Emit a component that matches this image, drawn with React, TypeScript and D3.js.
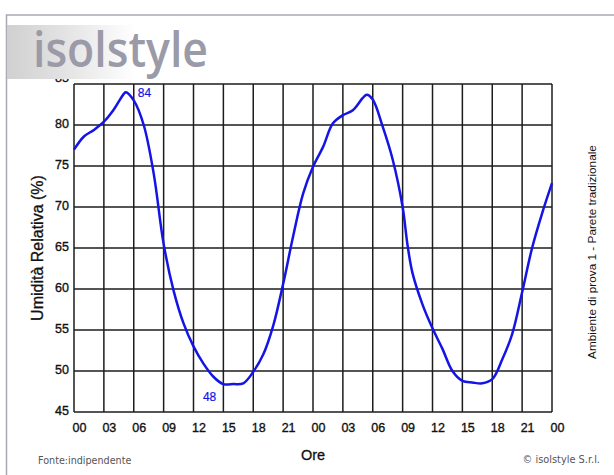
import { useEffect, useRef } from "react"
import * as d3 from "d3"

// hours from the first midnight, humidity %
const hours = [0, 1, 2, 3, 4, 5, 5.2, 6, 7, 8, 9, 10, 11, 12, 13, 14, 15, 16, 17, 18, 19, 20, 21, 22, 23, 24, 25, 26, 27, 28, 29, 29.4, 30, 31, 32, 33, 33.5, 34, 35, 36, 37, 38, 39, 40, 41, 42, 43, 44, 45, 46, 47, 48]
const humidity = [77.0, 78.6, 79.4, 80.4, 81.9, 83.8, 84.0, 83.0, 80.0, 74.1, 65.5, 59.8, 55.8, 53.0, 50.9, 49.3, 48.4, 48.4, 48.5, 49.9, 52.0, 55.5, 60.6, 66.4, 71.6, 74.9, 77.3, 80.2, 81.2, 81.8, 83.3, 83.7, 83.1, 79.8, 75.8, 70.0, 65.3, 61.9, 58.1, 55.2, 52.7, 50.0, 48.8, 48.6, 48.5, 49.0, 51.4, 54.5, 59.6, 65.0, 69.2, 72.9]
const xTickLabels = ["00", "03", "06", "09", "12", "15", "18", "21", "00", "03", "06", "09", "12", "15", "18", "21", "00"]
const yTicks = [45, 50, 55, 60, 65, 70, 75, 80, 85]
const peakLabels = [
  { h: 5.2, v: 84, text: "84", dx: 12, dy: 5 },
  { h: 14.3, v: 48, text: "48", dx: -13.5, dy: 14 },
]

const sans = "Liberation Sans, Arial, sans-serif"

export default function App() {
  const svgRef = useRef<SVGSVGElement>(null)

  useEffect(() => {
    if (!svgRef.current) return
    const svg = d3.select(svgRef.current)
    svg.selectAll("*").remove()

    const width = 614
    const height = 475
    const margin = { top: 84, right: 62, bottom: 63, left: 74 }
    const innerWidth = width - margin.left - margin.right
    const innerHeight = height - margin.top - margin.bottom

    const x = d3.scaleLinear().domain([0, 48]).range([0, innerWidth])
    const y = d3.scaleLinear().domain([45, 85]).range([innerHeight, 0])

    svg.append("rect").attr("width", width).attr("height", height).attr("fill", "white")

    // outer frame
    svg.append("path")
      .attr("d", `M${width},15 H6.5 V${height}`)
      .attr("fill", "none")
      .attr("stroke", "#a9a9b8")
      .attr("stroke-width", 1.5)

    const g = svg.append("g").attr("transform", `translate(${margin.left},${margin.top})`)

    // grid
    const xGrid = d3.range(0, 49, 3)
    g.selectAll(".vgrid")
      .data(xGrid)
      .enter()
      .append("line")
      .attr("x1", (d) => x(d))
      .attr("x2", (d) => x(d))
      .attr("y1", 0)
      .attr("y2", innerHeight)
      .attr("stroke", "#1c1c1c")
      .attr("stroke-width", 1.5)

    g.selectAll(".hgrid")
      .data(yTicks)
      .enter()
      .append("line")
      .attr("x1", 0)
      .attr("x2", innerWidth)
      .attr("y1", (d) => y(d))
      .attr("y2", (d) => y(d))
      .attr("stroke", "#1c1c1c")
      .attr("stroke-width", 1.5)

    // y tick labels (the top one sits a bit higher, half under the logo)
    g.selectAll(".ylab")
      .data(yTicks)
      .enter()
      .append("text")
      .attr("x", -5)
      .attr("y", (d) => y(d) + (d === 85 ? -2 : 2.5))
      .attr("text-anchor", "end")
      .attr("font-family", sans)
      .attr("font-size", "12.5px")
      .attr("fill", "#111")
      .attr("stroke", "#111")
      .attr("stroke-width", 0.35)
      .text((d) => d)

    // x tick labels
    g.selectAll(".xlab")
      .data(xTickLabels)
      .enter()
      .append("text")
      .attr("x", (_, i) => x(i * 3) + 5.5)
      .attr("y", innerHeight + 19.5)
      .attr("text-anchor", "middle")
      .attr("font-family", sans)
      .attr("font-size", "12.5px")
      .attr("fill", "#111")
      .attr("stroke", "#111")
      .attr("stroke-width", 0.35)
      .text((d) => d)

    // curve
    const line = d3
      .line<number>()
      .x((_, i) => x(hours[i]))
      .y((d) => y(d))
      .curve(d3.curveCatmullRom.alpha(0.5))

    g.append("path")
      .datum(humidity)
      .attr("d", line)
      .attr("fill", "none")
      .attr("stroke", "#1414e6")
      .attr("stroke-width", 2.5)

    g.selectAll(".peak")
      .data(peakLabels)
      .enter()
      .append("text")
      .attr("x", (d) => x(d.h) + d.dx)
      .attr("y", (d) => y(d.v) + d.dy)
      .attr("font-family", sans)
      .attr("font-size", "12px")
      .attr("fill", "#1414e6")
      .attr("stroke", "#1414e6")
      .attr("stroke-width", 0.2)
      .text((d) => d.text)

    // axis titles
    svg.append("text")
      .attr("transform", `translate(43,${margin.top + innerHeight / 2}) rotate(-90)`)
      .attr("text-anchor", "middle")
      .attr("font-family", sans)
      .attr("font-size", "16px")
      .attr("fill", "#111")
      .attr("stroke", "#111")
      .attr("stroke-width", 0.3)
      .text("Umidità Relativa (%)")

    svg.append("text")
      .attr("x", margin.left + innerWidth / 2)
      .attr("y", 460)
      .attr("text-anchor", "middle")
      .attr("font-family", sans)
      .attr("font-size", "14.5px")
      .attr("fill", "#111")
      .attr("stroke", "#111")
      .attr("stroke-width", 0.3)
      .text("Ore")

    svg.append("text")
      .attr("transform", `translate(596,252) rotate(-90)`)
      .attr("text-anchor", "middle")
      .attr("font-family", sans)
      .attr("font-size", "11.8px")
      .attr("fill", "#111")
      .text("Ambiente di prova 1 - Parete tradizionale")

    // logo block
    const defs = svg.append("defs")
    const grad = defs.append("linearGradient").attr("id", "logoGrad")
    grad.append("stop").attr("offset", "0%").attr("stop-color", "#d0d0d0")
    grad.append("stop").attr("offset", "45%").attr("stop-color", "#e3e3e3")
    grad.append("stop").attr("offset", "100%").attr("stop-color", "#ffffff")

    svg.append("rect")
      .attr("x", 7)
      .attr("y", 25)
      .attr("width", 128)
      .attr("height", 54)
      .attr("fill", "url(#logoGrad)")

    svg.append("text")
      .attr("x", 33)
      .attr("y", 67)
      .attr("font-family", "Open Sans, sans-serif")
      .attr("font-size", "48px")
      .attr("font-weight", 600)
      .attr("textLength", 175)
      .attr("lengthAdjust", "spacingAndGlyphs")
      .attr("fill", "#9b9aa8")
      .text("isolstyle")

    // footer
    svg.append("text")
      .attr("x", 38)
      .attr("y", 464)
      .attr("font-family", "DejaVu Sans, Verdana, sans-serif")
      .attr("font-size", "9.6px")
      .attr("fill", "#555")
      .text("Fonte:indipendente")

    svg.append("text")
      .attr("x", 600)
      .attr("y", 463)
      .attr("text-anchor", "end")
      .attr("font-family", "DejaVu Sans, Verdana, sans-serif")
      .attr("font-size", "9.8px")
      .attr("fill", "#555")
      .text("© isolstyle S.r.l.")
  }, [])

  return (
    <svg
      ref={svgRef}
      width={614}
      height={475}
      style={{ position: "absolute", top: 0, left: 0, display: "block" }}
    />
  )
}
